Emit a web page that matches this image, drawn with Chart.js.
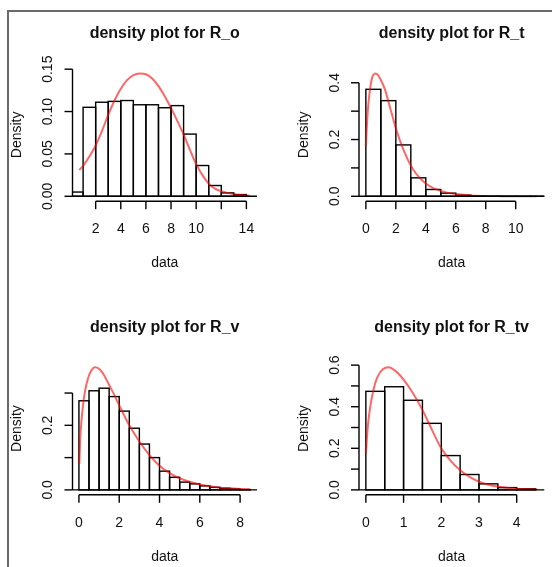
<!DOCTYPE html>
<html>
<head>
<meta charset="utf-8">
<script src="https://cdn.jsdelivr.net/npm/chart.js"></script>
<style>
  body { margin: 0; background: #fff; }
  #frame { position: absolute; left: 7px; top: 10px; width: 545px; height: 557px;
           border-left: 2px solid #6a6a6a; border-top: 2px solid #6a6a6a; }
  canvas { position: absolute; left: 0; top: 0; pointer-events: none; }
</style>
</head>
<body>
<div id="frame"></div>
<canvas id="c1" width="552" height="567"></canvas>
<canvas id="c2" width="552" height="567"></canvas>
<canvas id="c3" width="552" height="567"></canvas>
<canvas id="c4" width="552" height="567"></canvas>
<script>
// R_o
const roEdges = [0, 1, 2, 3, 4, 5, 6, 7, 8, 9, 10, 11, 12, 13, 14];
const roDensity = [0.005, 0.105, 0.111, 0.112, 0.113, 0.108, 0.108, 0.1045, 0.107, 0.0734, 0.0363, 0.0127, 0.004, 0.002];
const roCurveX = [0.7, 1, 1.5, 2, 2.5, 3, 3.5, 4, 4.5, 5, 5.5, 6, 6.5, 7, 7.5, 8, 8.5, 9, 9.5, 10, 10.5, 11, 11.5, 12, 12.5, 13, 13.5, 14, 14.3];
const roCurveY = [0.031, 0.036, 0.047, 0.06, 0.077, 0.096, 0.113, 0.127, 0.137, 0.143, 0.145, 0.144, 0.139, 0.13, 0.118, 0.104, 0.089, 0.073, 0.055, 0.038, 0.025, 0.015, 0.009, 0.006, 0.004, 0.0025, 0.0015, 0.0008, 0.0005];
const roXTicks = [2, 4, 6, 8, 10, 12, 14];
const roXLabels = ["2", "4", "6", "8", "10", "", "14"];
const roYTicks = [0, 0.05, 0.1, 0.15];
const roYLabels = ["0.00", "0.05", "0.10", "0.15"];

// R_t
const rtEdges = [0, 1, 2, 3, 4, 5, 6, 7, 8, 9, 10, 11, 12];
const rtDensity = [0.377, 0.337, 0.181, 0.065, 0.024, 0.011, 0.004, 0.0015, 0.0006, 0.0003, 0.0002, 0.0001];
const rtCurveX = [0, 0.08, 0.16, 0.25, 0.38, 0.5, 0.65, 0.8, 1, 1.25, 1.5, 1.75, 2, 2.5, 3, 3.5, 4, 4.5, 5, 5.5, 6, 7, 8, 9, 10, 11.45];
const rtCurveY = [0.178, 0.26, 0.32, 0.365, 0.41, 0.428, 0.433, 0.428, 0.41, 0.38, 0.335, 0.287, 0.24, 0.165, 0.108, 0.07, 0.045, 0.029, 0.019, 0.012, 0.008, 0.003, 0.0012, 0.0005, 0.0002, 0.0001];
const rtXTicks = [0, 2, 4, 6, 8, 10];
const rtXLabels = ["0", "2", "4", "6", "8", "10"];
const rtYTicks = [0, 0.1, 0.2, 0.3, 0.4];
const rtYLabels = ["0.0", "", "0.2", "", "0.4"];

// R_v
const rvEdges = [0, 0.5, 1, 1.5, 2, 2.5, 3, 3.5, 4, 4.5, 5, 5.5, 6, 6.5, 7, 7.5, 8, 8.5];
const rvDensity = [0.276, 0.307, 0.315, 0.289, 0.244, 0.191, 0.142, 0.1, 0.058, 0.039, 0.024, 0.0186, 0.0124, 0.008, 0.005, 0.003, 0.001];
const rvCurveX = [0.02, 0.06, 0.12, 0.2, 0.3, 0.45, 0.6, 0.8, 1, 1.25, 1.5, 1.75, 2, 2.5, 3, 3.5, 4, 4.5, 5, 5.5, 6, 6.5, 7, 7.5, 8, 8.5];
const rvCurveY = [0.08, 0.15, 0.21, 0.26, 0.305, 0.345, 0.368, 0.38, 0.375, 0.355, 0.325, 0.295, 0.262, 0.2, 0.15, 0.108, 0.075, 0.052, 0.036, 0.025, 0.017, 0.011, 0.007, 0.005, 0.003, 0.002];
const rvXTicks = [0, 2, 4, 6, 8];
const rvXLabels = ["0", "2", "4", "6", "8"];
const rvYTicks = [0, 0.1, 0.2, 0.3];
const rvYLabels = ["0.0", "", "0.2", ""];

// R_tv
const rtvEdges = [0, 0.5, 1, 1.5, 2, 2.5, 3, 3.5, 4, 4.5];
const rtvDensity = [0.474, 0.496, 0.431, 0.32, 0.165, 0.074, 0.029, 0.011, 0.005];
const rtvCurveX = [0, 0.05, 0.1, 0.2, 0.3, 0.45, 0.6, 0.8, 1, 1.25, 1.5, 1.75, 2, 2.25, 2.5, 2.75, 3, 3.25, 3.5, 4, 4.55];
const rtvCurveY = [0.173, 0.3, 0.38, 0.48, 0.54, 0.58, 0.59, 0.57, 0.53, 0.465, 0.385, 0.29, 0.2, 0.14, 0.095, 0.063, 0.04, 0.025, 0.016, 0.006, 0.002];
const rtvXTicks = [0, 1, 2, 3, 4];
const rtvXLabels = ["0", "1", "2", "3", "4"];
const rtvYTicks = [0, 0.1, 0.2, 0.3, 0.4, 0.5, 0.6];
const rtvYLabels = ["0.0", "", "0.2", "", "0.4", "", "0.6"];

const FONT = '"Liberation Sans", Arial, sans-serif';

// R pads the data range by 4% on each side
function rRange(vals) {
  const lo = Math.min(...vals), hi = Math.max(...vals);
  const d = (hi - lo) * 0.04;
  return [lo - d, hi + d];
}

// draws bar outlines, axes, labels and title the way R's base graphics does
const rAxes = {
  id: "rAxes",
  afterDatasetDraw(chart, args) {
    const meta = args.meta;
    if (meta.type !== "bar") return;
    const { ctx, chartArea: a } = chart;
    ctx.save();
    ctx.beginPath();
    ctx.rect(a.left, a.top, a.right - a.left, a.bottom - a.top);
    ctx.clip();
    ctx.strokeStyle = "#000";
    ctx.lineWidth = 1.4;
    meta.data.forEach((bar) => {
      const { x, y, base, width } = bar.getProps(["x", "y", "base", "width"], true);
      ctx.strokeRect(x - width / 2, y, width, base - y);
    });
    ctx.restore();
  },
  afterDraw(chart, args, o) {
    const { ctx, chartArea: a, scales: { x, y } } = chart;
    const line = (x1, y1, x2, y2) => {
      ctx.beginPath(); ctx.moveTo(x1, y1); ctx.lineTo(x2, y2); ctx.stroke();
    };
    ctx.save();
    ctx.strokeStyle = "#000";
    ctx.fillStyle = "#111";
    ctx.lineWidth = 1.4;

    const y0 = y.getPixelForValue(0);
    line(a.left, y0, a.right, y0);

    // y axis
    const yp = o.yTicks.map((v) => y.getPixelForValue(v));
    line(a.left, yp[0], a.left, yp[yp.length - 1]);
    ctx.font = "14px " + FONT;
    ctx.textAlign = "center";
    ctx.textBaseline = "middle";
    yp.forEach((py, i) => {
      line(a.left, py, a.left - 8, py);
      ctx.save();
      ctx.translate(a.left - 24, py);
      ctx.rotate(-Math.PI / 2);
      ctx.fillText(o.yLabels[i], 0, 0);
      ctx.restore();
    });

    // x axis
    const xp = o.xTicks.map((v) => x.getPixelForValue(v));
    line(xp[0], a.bottom, xp[xp.length - 1], a.bottom);
    xp.forEach((px, i) => {
      line(px, a.bottom, px, a.bottom + 8);
      ctx.fillText(o.xLabels[i], px, a.bottom + 28);
    });

    const cx = (a.left + a.right) / 2;
    ctx.fillText("data", cx, a.bottom + 62);
    ctx.save();
    ctx.translate(a.left - 55, (a.top + a.bottom) / 2);
    ctx.rotate(-Math.PI / 2);
    ctx.fillText("Density", 0, 0);
    ctx.restore();

    ctx.font = "bold 16px " + FONT;
    ctx.fillText(o.title, cx, a.top - 35);
    ctx.restore();
  }
};

function drawPanel(id, title, box, edges, density, curveX, curveY, xTicks, xLabels, yTicks, yLabels) {
  const xr = rRange(curveX);
  const yr = rRange([0, ...curveY]);
  new Chart(id, {
    type: "bar",
    data: {
      datasets: [
        {
          type: "line",
          data: curveX.map((v, i) => ({ x: v, y: curveY[i] })),
          borderColor: "rgba(255, 0, 0, 0.6)",
          borderWidth: 2,
          pointRadius: 0,
          cubicInterpolationMode: "monotone",
          clip: 0,
          order: 0
        },
        {
          type: "bar",
          data: density.map((d, i) => ({ x: (edges[i] + edges[i + 1]) / 2, y: d })),
          backgroundColor: "rgba(0, 0, 0, 0)",
          borderWidth: 0,
          barPercentage: 1,
          categoryPercentage: 1,
          clip: 0,
          order: 1
        }
      ]
    },
    options: {
      responsive: false,
      animation: false,
      events: [],
      layout: { padding: { left: box[0], top: box[1], right: 552 - box[2], bottom: 567 - box[3] } },
      scales: {
        x: {
          type: "linear", display: false, offset: false, min: xr[0], max: xr[1],
          afterBuildTicks: (s) => { s.ticks = xTicks.map((v) => ({ value: v })); }
        },
        y: {
          type: "linear", display: false, min: yr[0], max: yr[1],
          afterBuildTicks: (s) => { s.ticks = yTicks.map((v) => ({ value: v })); }
        }
      },
      plugins: {
        legend: { display: false },
        tooltip: { enabled: false },
        rAxes: { title, xTicks, xLabels, yTicks, yLabels }
      }
    },
    plugins: [rAxes]
  });
}

drawPanel("c1", "density plot for R_o", [72.5, 68.5, 257, 201.2], roEdges, roDensity, roCurveX, roCurveY, roXTicks, roXLabels, roYTicks, roYLabels);
drawPanel("c2", "density plot for R_t", [359, 68.5, 544.3, 201.2], rtEdges, rtDensity, rtCurveX, rtCurveY, rtXTicks, rtXLabels, rtYTicks, rtYLabels);
drawPanel("c3", "density plot for R_v", [72.5, 362.3, 257, 494.8], rvEdges, rvDensity, rvCurveX, rvCurveY, rvXTicks, rvXLabels, rvYTicks, rvYLabels);
drawPanel("c4", "density plot for R_tv", [359, 362.3, 544.3, 494.8], rtvEdges, rtvDensity, rtvCurveX, rtvCurveY, rtvXTicks, rtvXLabels, rtvYTicks, rtvYLabels);
</script>
</body>
</html>
